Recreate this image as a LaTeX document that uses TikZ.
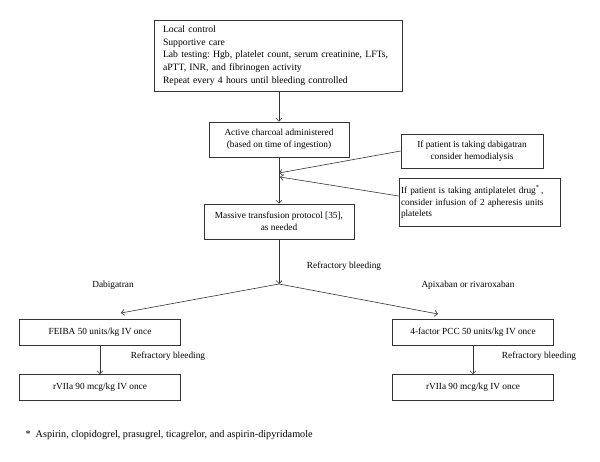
\documentclass[tikz,border=0pt]{standalone}
\usepackage{fontspec}
\setmainfont{Liberation Serif}
\usetikzlibrary{arrows.meta}
\frenchspacing
\begin{document}
\begin{tikzpicture}[x=1pt,y=-1pt,
    box/.style={draw=black!80,line width=0.6pt,inner sep=2pt,align=center,font=\fontsize{9.3}{11.5}\selectfont},
    lbl/.style={font=\fontsize{9.3}{11.5}\selectfont},
    arr/.style={draw=black!80,line width=0.6pt,-{Straight Barb[length=3pt,width=6pt]}}]
    \useasboundingbox (0,0) rectangle (600,462);
    \node[box,inner xsep=9pt,inner ysep=4pt,text width=230pt,minimum height=71pt,align=left,font=\fontsize{9.7}{12.7}\selectfont] (care) at (278,55.5) {Local control\\Supportive care\\Lab testing: Hgb, platelet count, serum creatinine, LFTs,\\aPTT, INR, and fibrinogen activity\\Repeat every 4 hours until bleeding controlled};
    \node[box,minimum width=140pt,minimum height=35pt] (coal) at (279,139.5) {Active charcoal administered\\(based on time of ingestion)};
    \node[box,minimum width=142pt,minimum height=34pt] (dabi) at (472,151) {If patient is taking dabigatran\\consider hemodialysis};
    \node[box,text width=157pt,minimum height=48pt,align=left] (anti) at (479.5,202) {If patient is taking antiplatelet drug\textsuperscript{*}\,,\\consider infusion of 2 apheresis units\\platelets};
    \node[box,minimum width=150pt,minimum height=35pt] (mtp) at (279,221.5) {Massive transfusion protocol [35],\\as needed};
    \coordinate (hitA) at (279,173);
    \coordinate (hitB) at (280,177);
    \coordinate (split) at (279,284);
    \coordinate (endL) at (121,313);
    \coordinate (endR) at (438,314);
    \node[box,minimum width=161pt,minimum height=26pt] (feiba) at (100,332.5) {FEIBA 50 units/kg IV once};
    \node[box,minimum width=161pt,minimum height=26pt] (rviiL) at (100,387.5) {rVIIa 90 mcg/kg IV once};
    \node[box,minimum width=161pt,minimum height=26pt] (pcc) at (473,332.5) {4-factor PCC 50 units/kg IV once};
    \node[box,minimum width=161pt,minimum height=26pt] (rviiR) at (473,387.5) {rVIIa 90 mcg/kg IV once};
    \node[lbl] (refr) at (344,266) {Refractory bleeding};
    \node[lbl] (dlbl) at (113,285) {Dabigatran};
    \node[lbl] (albl) at (468,285) {Apixaban or rivaroxaban};
    \node[lbl] (refrL) at (168,356) {Refractory bleeding};
    \node[lbl] (refrR) at (539,356) {Refractory bleeding};
    \node[lbl,anchor=west,font=\fontsize{10.2}{12}\selectfont] (note) at (22,435) {*\ \ Aspirin, clopidogrel, prasugrel, ticagrelor, and aspirin-dipyridamole};
    \draw[arr] (coal.north |- care.south) -- (coal.north);
    \draw[arr] (coal) -- (mtp);
    \draw[arr] (dabi.west) -- (hitA);
    \draw[arr] ([yshift=6pt]anti.west) -- (hitB);
    \draw[arr] (mtp) -- (split);
    \draw[arr] (split) -- (endL);
    \draw[arr] (split) -- (endR);
    \draw[arr] (feiba) -- (rviiL);
    \draw[arr] (pcc) -- (rviiR);
\end{tikzpicture}
\end{document}
